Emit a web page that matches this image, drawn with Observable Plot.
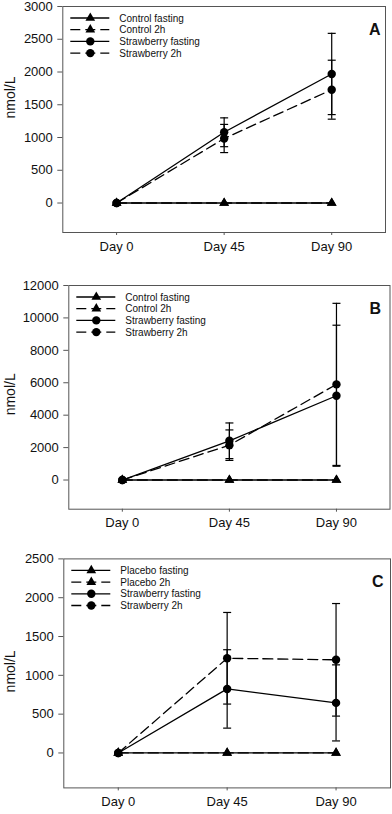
<!DOCTYPE html>
<html><head><meta charset="utf-8">
<script src="https://cdn.jsdelivr.net/npm/d3@7"></script>
<script src="https://cdn.jsdelivr.net/npm/@observablehq/plot@0.6"></script>
<style>
body{margin:0;background:#fff;}
#chart svg{display:block;}
</style></head><body><div id="chart"></div>
<script>
// ---- shared categories / labels ----
const days = [0, 45, 90];
const dayLabels = ["Day 0", "Day 45", "Day 90"];
const seriesNamesAB = ["Control fasting", "Control 2h", "Strawberry fasting", "Strawberry 2h"];
const seriesNamesC = ["Placebo fasting", "Placebo 2h", "Strawberry fasting", "Strawberry 2h"];
const panelLetters = ["A", "B", "C"];
const yLabel = "nmol/L";

// ---- Panel A ----
const aTicks = [0, 500, 1000, 1500, 2000, 2500, 3000];
const aControlFasting = [0, 0, 0];
const aControl2h = [0, 0, 0];
const aStrawFasting = [0, 1080, 1970];
const aStrawFastingErr = [0, 220, 620];
const aStraw2h = [0, 985, 1730];
const aStraw2hErr = [0, 215, 450];

// ---- Panel B ----
const bTicks = [0, 2000, 4000, 6000, 8000, 10000, 12000];
const bControlFasting = [0, 0, 0];
const bControl2h = [0, 0, 0];
const bStrawFasting = [0, 2420, 5200];
const bStrawFastingErr = [0, 1100, 4350];
const bStraw2h = [0, 2150, 5900];
const bStraw2hErr = [0, 940, 5000];

// ---- Panel C ----
const cTicks = [0, 500, 1000, 1500, 2000, 2500];
const cPlaceboFasting = [0, 0, 0];
const cPlacebo2h = [0, 0, 0];
const cStrawFasting = [0, 825, 645];
const cStrawFastingErr = [0, 505, 490];
const cStraw2h = [0, 1220, 1200];
const cStraw2hErr = [0, 590, 725];

const FONT = "'Liberation Sans', Arial, Helvetica, sans-serif";
const LEGEND_FONT = "'Liberation Sans Narrow', 'Arial Narrow', 'Liberation Sans', sans-serif";

const capSymbol = {
  draw(ctx, size) {
    const w = Math.sqrt(size / Math.PI);
    ctx.moveTo(-w, 0);
    ctx.lineTo(w, 0);
  }
};

function rows(vals, errs) {
  return days.map((d, i) => ({day: d, value: vals[i], err: errs ? errs[i] : 0}));
}

function panel(cfg) {
  const series = cfg.series;
  const marks = [
    Plot.frame({stroke: "#555", strokeWidth: 1}),
    Plot.axisY({ticks: cfg.ticks, tickSize: 5, tickPadding: 5, label: null, tickFormat: d => String(d), stroke: "#555", fill: "#111"}),
    Plot.axisX({ticks: days, tickSize: 3, tickPadding: 6, label: null, tickFormat: d => dayLabels[days.indexOf(d)], stroke: "#555", fill: "#111"}),
    Plot.text([yLabel], {frameAnchor: "left", rotate: -90, dx: 10 - cfg.ml, dy: cfg.labelDy, fontSize: 14, fill: "#111", lineAnchor: "middle"}),
    Plot.text([cfg.letter], {frameAnchor: "top-right", dx: -cfg.letterDx, dy: 17, lineAnchor: "top", textAnchor: "end", fontSize: 16, fontWeight: "bold", fill: "#111"})
  ];
  series.forEach(s => {
    const data = rows(s.values, s.errs);
    marks.push(Plot.line(data, {x: "day", y: "value", stroke: "#000", strokeWidth: 1.3, strokeDasharray: s.dashed ? "10,5" : null}));
    if (s.errs) {
      const ed = data.filter(d => d.err > 0);
      marks.push(Plot.ruleX(ed, {x: "day", y1: d => d.value - d.err, y2: d => d.value + d.err, stroke: "#000", strokeWidth: 1.2}));
      marks.push(Plot.dot(ed, {x: "day", y: d => d.value - d.err, symbol: capSymbol, r: 4, stroke: "#000", strokeWidth: 1.2, fill: "none"}));
      marks.push(Plot.dot(ed, {x: "day", y: d => d.value + d.err, symbol: capSymbol, r: 4, stroke: "#000", strokeWidth: 1.2, fill: "none"}));
    }
    marks.push(Plot.dot(data, {x: "day", y: "value", symbol: s.symbol, r: s.symbol === "circle" ? 4.2 : 3.6, fill: "#000", stroke: "none"}));
  });
  const svg = Plot.plot({
    width: 392,
    height: cfg.height,
    marginTop: cfg.mt,
    marginBottom: cfg.mb,
    marginLeft: cfg.ml,
    marginRight: cfg.mr,
    style: {fontFamily: FONT, fontSize: "13px", background: "#fff", color: "#111", overflow: "visible"},
    x: {type: "linear", domain: [-22.5, 112.5]},
    y: {domain: cfg.domain},
    marks
  });
  // legend (inside frame, top-left)
  const g = d3.select(svg).append("g").attr("text-anchor", "start");
  series.forEach((s, i) => {
    const y = cfg.mt + 12 + i * 11.7;
    g.append("line")
      .attr("x1", cfg.ml + 8).attr("x2", cfg.ml + 47)
      .attr("y1", y).attr("y2", y)
      .attr("stroke", "#000").attr("stroke-width", 1.3)
      .attr("stroke-dasharray", s.dashed ? "10,5" : null);
    const sym = s.symbol === "circle" ? d3.symbolCircle : d3.symbolTriangle;
    const r = s.symbol === "circle" ? 4.2 : 3.6;
    g.append("path")
      .attr("d", d3.symbol(sym, Math.PI * r * r)())
      .attr("transform", `translate(${cfg.ml + 28},${y})`)
      .attr("fill", "#000");
    g.append("text")
      .attr("x", cfg.ml + 57).attr("y", y)
      .attr("dy", "0.35em")
      .attr("text-anchor", "start")
      .attr("font-family", LEGEND_FONT)
      .attr("font-size", 10)
      .attr("fill", "#111")
      .text(s.name);
  });
  return svg;
}

function makeSeries(names, v) {
  return [
    {name: names[0], values: v[0], errs: null, symbol: "triangle", dashed: false},
    {name: names[1], values: v[1], errs: null, symbol: "triangle", dashed: true},
    {name: names[2], values: v[2], errs: v[3], symbol: "circle", dashed: false},
    {name: names[3], values: v[4], errs: v[5], symbol: "circle", dashed: true}
  ];
}

const root = document.getElementById("chart");
root.appendChild(panel({
  letter: panelLetters[0], height: 270, mt: 6, mb: 38, ml: 62.3, mr: 7, letterDx: 5, labelDy: -1,
  domain: [-450, 3000], ticks: aTicks,
  series: makeSeries(seriesNamesAB, [aControlFasting, aControl2h, aStrawFasting, aStrawFastingErr, aStraw2h, aStraw2hErr])
}));
root.appendChild(panel({
  letter: panelLetters[1], height: 270, mt: 15, mb: 31.3, ml: 68.3, mr: 2.5, letterDx: 9, labelDy: 18,
  domain: [-1800, 12000], ticks: bTicks,
  series: makeSeries(seriesNamesAB, [bControlFasting, bControl2h, bStrawFasting, bStrawFastingErr, bStraw2h, bStraw2hErr])
}));
root.appendChild(panel({
  letter: panelLetters[2], height: 274, mt: 18.4, mb: 26.6, ml: 63.3, mr: 2, letterDx: 7, labelDy: 19,
  domain: [-450, 2500], ticks: cTicks,
  series: makeSeries(seriesNamesC, [cPlaceboFasting, cPlacebo2h, cStrawFasting, cStrawFastingErr, cStraw2h, cStraw2hErr])
}));
</script></body></html>
